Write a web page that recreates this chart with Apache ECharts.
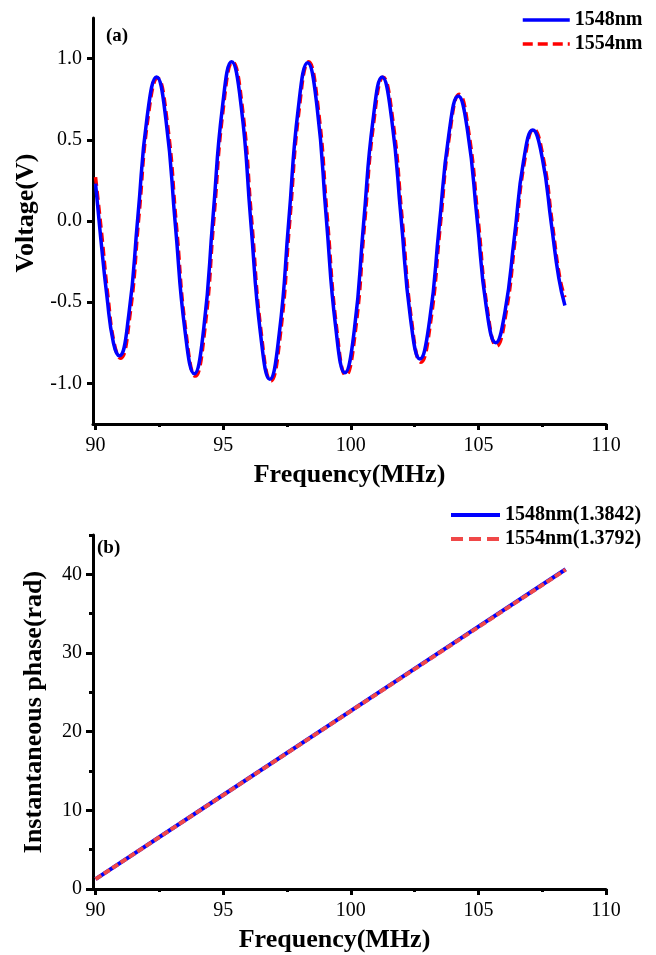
<!DOCTYPE html>
<html><head><meta charset="utf-8">
<script src="https://cdn.jsdelivr.net/npm/echarts@6/dist/echarts.min.js"></script>
<style>html,body{margin:0;padding:0;background:#fff}#c{width:656px;height:955px}</style>
</head><body><div id="c"></div>
<script>
// ---- Data ----
const freq1548 = [90.00, 90.20, 90.45, 90.70, 90.93, 91.30, 91.66, 92.02, 92.39, 92.76, 93.13, 93.50, 93.87, 94.24, 94.60, 94.97, 95.33, 95.71, 96.08, 96.46, 96.83, 97.20, 97.57, 97.94, 98.31, 98.68, 99.04, 99.41, 99.77, 100.14, 100.50, 100.87, 101.23, 101.60, 101.97, 102.34, 102.71, 103.09, 103.46, 103.84, 104.21, 104.58, 104.95, 105.31, 105.68, 106.04, 106.41, 106.77, 107.13, 107.50, 107.86, 108.15, 108.39];
const volt1548 = [0.23, -0.10, -0.47, -0.75, -0.83, -0.58, 0.03, 0.64, 0.887, 0.62, -0.03, -0.67, -0.94, -0.66, 0.02, 0.70, 0.98, 0.70, 0.00, -0.69, -0.975, -0.69, 0.00, 0.69, 0.975, 0.70, 0.02, -0.655, -0.934, -0.67, -0.02, 0.62, 0.887, 0.63, 0.02, -0.60, -0.85, -0.61, -0.04, 0.53, 0.77, 0.55, 0.01, -0.53, -0.75, -0.56, -0.10, 0.37, 0.56, 0.39, -0.02, -0.35, -0.52];
const freq1554 = [90.00, 90.24, 90.49, 90.74, 90.97, 91.34, 91.70, 92.06, 92.43, 92.80, 93.17, 93.54, 93.91, 94.28, 94.64, 95.01, 95.37, 95.75, 96.12, 96.50, 96.87, 97.24, 97.61, 97.98, 98.35, 98.72, 99.08, 99.45, 99.81, 100.18, 100.54, 100.91, 101.27, 101.64, 102.01, 102.38, 102.75, 103.13, 103.50, 103.88, 104.25, 104.62, 104.99, 105.35, 105.72, 106.08, 106.45, 106.81, 107.17, 107.54, 107.90, 108.19, 108.39];
const volt1554 = [0.27, -0.08, -0.47, -0.76, -0.845, -0.59, 0.03, 0.64, 0.88, 0.62, -0.03, -0.68, -0.955, -0.67, 0.02, 0.70, 0.98, 0.70, 0.00, -0.70, -0.985, -0.70, 0.00, 0.69, 0.98, 0.70, 0.02, -0.665, -0.95, -0.68, -0.02, 0.62, 0.885, 0.63, 0.02, -0.61, -0.87, -0.62, -0.04, 0.54, 0.78, 0.55, 0.01, -0.54, -0.77, -0.57, -0.10, 0.37, 0.565, 0.39, -0.02, -0.35, -0.47];

const freqPhase = [90.0, 95.0, 100.0, 105.0, 108.42];
const phase1548 = [1.25, 11.95, 22.65, 33.35, 40.65];
const phase1554 = [1.25, 11.93, 22.62, 33.30, 40.60];

const xTicks = [90, 95, 100, 105, 110];
const xMinorTicks = [92.5, 97.5, 102.5, 107.5];
const yTicksA = [-1.0, -0.5, 0.0, 0.5, 1.0];
const yTicksB = [0, 10, 20, 30, 40];
const yMinorTicksB = [5, 15, 25, 35, 45];

const namesA = ['1548nm', '1554nm'];
const namesB = ['1548nm(1.3842)', '1554nm(1.3792)'];

// ---- Chart ----
const FONT = '"Liberation Serif", "Times New Roman", serif';
const zip = (xs, ys) => xs.map((x, i) => [x, ys[i]]);

function majorX(grid, extra) {
  return Object.assign({
    gridIndex: grid, type: 'value', min: 89.9, max: 110, position: 'bottom',
    axisLine: { show: true, onZero: false, lineStyle: { color: '#000', width: 3 } },
    axisTick: { show: true, customValues: xTicks, length: 6, inside: false, lineStyle: { color: '#000', width: 3 } },
    axisLabel: { customValues: xTicks, margin: 12, fontFamily: FONT, fontSize: 20, color: '#000' },
    splitLine: { show: false },
    name: 'Frequency(MHz)', nameLocation: 'middle', nameGap: 38,
    nameTextStyle: { fontFamily: FONT, fontWeight: 'bold', fontSize: 26, color: '#000' }
  }, extra || {});
}
function minorX(grid) {
  return {
    gridIndex: grid, type: 'value', min: 89.9, max: 110, position: 'bottom',
    axisLine: { show: false, onZero: false },
    axisTick: { show: true, customValues: xMinorTicks, length: 3, lineStyle: { color: '#000', width: 3 } },
    axisLabel: { show: false }, splitLine: { show: false }
  };
}

const legendText = { fontFamily: FONT, fontWeight: 'bold', fontSize: 20, color: '#000' };

const chart = echarts.init(document.getElementById('c'), null, { renderer: 'canvas' });
chart.setOption({
  animation: false,
  backgroundColor: '#fff',
  title: [
    { text: '(a)', left: 106, top: 27, padding: 0, textStyle: { fontFamily: FONT, fontWeight: 'bold', fontSize: 19, color: '#000' } },
    { text: '(b)', left: 97, top: 539, padding: 0, textStyle: { fontFamily: FONT, fontWeight: 'bold', fontSize: 19, color: '#000' } }
  ],
  legend: [
    {
      data: [
        { name: namesA[0], lineStyle: { width: 3.5 } },
        { name: namesA[1], lineStyle: { width: 3.5, type: [10, 5] } }
      ],
      orient: 'vertical', left: 521, top: 10, padding: 0,
      itemWidth: 47, itemHeight: 14, itemGap: 4, itemStyle: { opacity: 0 },
      textStyle: legendText
    },
    {
      data: [
        { name: namesB[0], lineStyle: { width: 4 } },
        { name: namesB[1], lineStyle: { width: 4, type: [12, 6] } }
      ],
      orient: 'vertical', left: 449, top: 505, padding: 0,
      itemWidth: 49, itemHeight: 14, itemGap: 4, itemStyle: { opacity: 0 },
      textStyle: legendText
    }
  ],
  grid: [
    { left: 93, top: 18, width: 513, height: 406, containLabel: false },
    { left: 93, top: 535, width: 513, height: 354, containLabel: false }
  ],
  xAxis: [
    majorX(0), minorX(0),
    majorX(1, { nameTextStyle: { fontFamily: FONT, fontWeight: 'bold', fontSize: 26, color: '#000', padding: [0, 30, 0, 0] } }),
    minorX(1)
  ],
  yAxis: [
    {
      gridIndex: 0, type: 'value', min: -1.25, max: 1.25, position: 'left',
      axisLine: { show: true, onZero: false, lineStyle: { color: '#000', width: 3 } },
      axisTick: { show: true, customValues: yTicksA, length: 6, lineStyle: { color: '#000', width: 3 } },
      axisLabel: { customValues: yTicksA, margin: 11, fontFamily: FONT, fontSize: 20, color: '#000', formatter: v => v.toFixed(1) },
      splitLine: { show: false },
      name: 'Voltage(V)', nameLocation: 'middle', nameGap: 54,
      nameTextStyle: { fontFamily: FONT, fontWeight: 'bold', fontSize: 26, color: '#000', padding: [0, 0, 0, 16] }
    },
    {
      gridIndex: 1, type: 'value', min: 0, max: 45, position: 'left',
      axisLine: { show: true, onZero: false, lineStyle: { color: '#000', width: 3 } },
      axisTick: { show: true, customValues: yTicksB, length: 7, lineStyle: { color: '#000', width: 3 } },
      axisLabel: { customValues: yTicksB, margin: 11, fontFamily: FONT, fontSize: 20, color: '#000' },
      splitLine: { show: false },
      name: 'Instantaneous phase(rad)', nameLocation: 'middle', nameGap: 46,
      nameTextStyle: { fontFamily: FONT, fontWeight: 'bold', fontSize: 26, color: '#000' }
    },
    {
      gridIndex: 1, type: 'value', min: 0, max: 45, position: 'left',
      axisLine: { show: false, onZero: false },
      axisTick: { show: true, customValues: yMinorTicksB, length: 4, lineStyle: { color: '#000', width: 3 } },
      axisLabel: { show: false }, splitLine: { show: false }
    }
  ],
  series: [
    {
      name: namesA[1], type: 'line', xAxisIndex: 0, yAxisIndex: 0, data: zip(freq1554, volt1554),
      smooth: true, symbol: 'none', z: 2,
      lineStyle: { color: '#ff0000', width: 3.5, type: [9, 5] }, itemStyle: { color: '#ff0000' }
    },
    {
      name: namesA[0], type: 'line', xAxisIndex: 0, yAxisIndex: 0, data: zip(freq1548, volt1548),
      smooth: true, symbol: 'none', z: 3,
      lineStyle: { color: '#0000ff', width: 3.5 }, itemStyle: { color: '#0000ff' }
    },
    {
      name: namesB[0], type: 'line', xAxisIndex: 2, yAxisIndex: 1, data: zip(freqPhase, phase1548),
      symbol: 'none', z: 2,
      lineStyle: { color: '#0000ff', width: 4 }, itemStyle: { color: '#0000ff' }
    },
    {
      name: namesB[1], type: 'line', xAxisIndex: 2, yAxisIndex: 1, data: zip(freqPhase, phase1554),
      symbol: 'none', z: 3,
      lineStyle: { color: '#f04848', width: 4, type: [7, 3] }, itemStyle: { color: '#f04848' }
    }
  ]
});
</script></body></html>
